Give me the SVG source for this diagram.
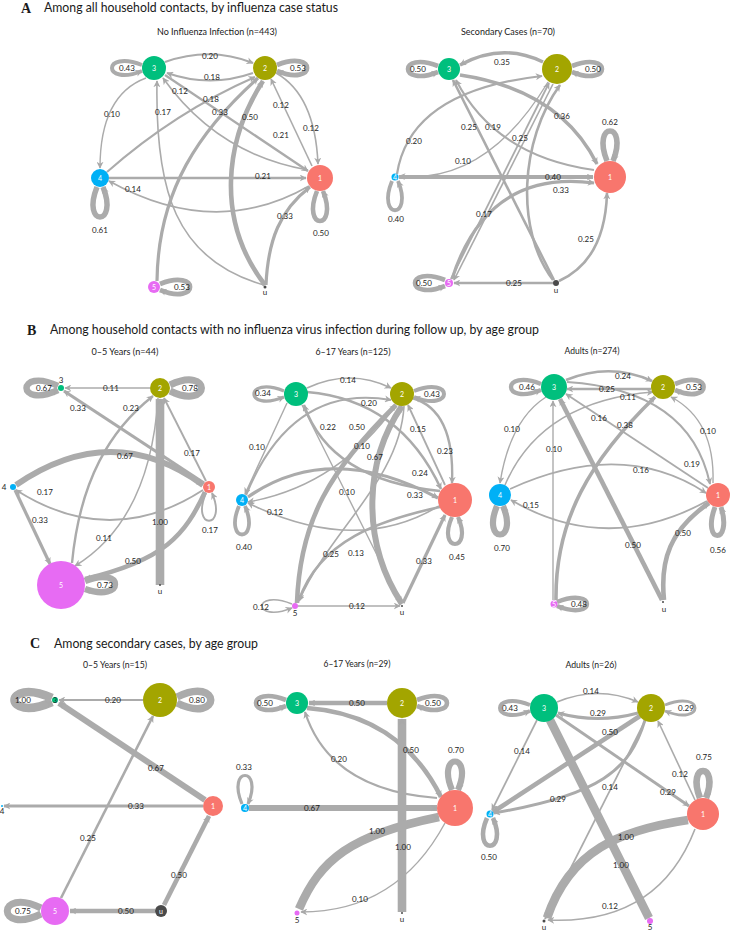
<svg xmlns="http://www.w3.org/2000/svg" width="731" height="931" viewBox="0 0 731 931">
<defs>
<marker id="ar" viewBox="0 0 10 10" refX="9" refY="5" markerWidth="7" markerHeight="7" markerUnits="userSpaceOnUse" orient="auto"><path d="M0,0 L10,5 L0,10 L3,5 z" fill="#a9a9a9"/></marker>
<style>
.e{fill:none;stroke:#ababab;marker-end:url(#ar)}
.l{font-family:Lato,"Open Sans",sans-serif;font-size:8px;fill:#1e1e1e;text-anchor:middle}
.nl{font-family:Lato,"Open Sans",sans-serif;font-size:7px;fill:#ffffff;text-anchor:middle}
.ol{font-family:Lato,"Open Sans",sans-serif;font-size:8px;fill:#1e1e1e;text-anchor:middle}
.t{font-family:Lato,"Open Sans",sans-serif;font-size:12.5px;fill:#1a1a1a}
.k{font-family:"Liberation Serif",serif;font-weight:bold;font-size:14px;fill:#1a1a1a}
.s{font-family:Lato,"Open Sans",sans-serif;font-size:8.5px;fill:#1a1a1a;text-anchor:middle}
.c1{fill:#F8766D}.c2{fill:#A3A500}.c3{fill:#00BF7D}.c4{fill:#00B0F6}.c5{fill:#E76BF3}.cu{fill:#4a4a4a}
</style>
</defs>
<rect width="731" height="931" fill="#ffffff"/>

<g id="titles">
<text class="k" x="21" y="13">A</text>
<text class="t" x="44" y="12" textLength="294" lengthAdjust="spacingAndGlyphs">Among all household contacts, by influenza case status</text>
<text class="s" x="217" y="35" textLength="120" lengthAdjust="spacingAndGlyphs">No Influenza Infection (n=443)</text>
<text class="s" x="508" y="35" textLength="94" lengthAdjust="spacingAndGlyphs">Secondary Cases (n=70)</text>
<text class="k" x="27" y="335">B</text>
<text class="t" x="50" y="334" textLength="489" lengthAdjust="spacingAndGlyphs">Among household contacts with no influenza virus infection during follow up, by age group</text>
<text class="s" x="125" y="355" textLength="67" lengthAdjust="spacingAndGlyphs">0–5 Years (n=44)</text>
<text class="s" x="353" y="355" textLength="75" lengthAdjust="spacingAndGlyphs">6–17 Years (n=125)</text>
<text class="s" x="592" y="354" textLength="55" lengthAdjust="spacingAndGlyphs">Adults (n=274)</text>
<text class="k" x="30" y="648">C</text>
<text class="t" x="54" y="648" textLength="204" lengthAdjust="spacingAndGlyphs">Among secondary cases, by age group</text>
<text class="s" x="115" y="668" textLength="64" lengthAdjust="spacingAndGlyphs">0–5 Years (n=15)</text>
<text class="s" x="357" y="667" textLength="67" lengthAdjust="spacingAndGlyphs">6–17 Years (n=29)</text>
<text class="s" x="591" y="668" textLength="51" lengthAdjust="spacingAndGlyphs">Adults (n=26)</text>
</g>

<g id="connectors">
<!-- A left -->
<path class="e" style="stroke-width:2.2" d="M165,62 Q210,46 253,63"/>
<path class="e" style="stroke-width:2" d="M253,73 Q210,88 167,73"/>
<path class="e" style="stroke-width:4" d="M142,65 C102,49 102,87 142,71"/>
<path class="e" style="stroke-width:4.8" d="M277,65 C317,49 317,87 277,71"/>
<path class="e" style="stroke-width:5.5" d="M97,187 C81,227 119,227 103,187"/>
<path class="e" style="stroke-width:4.6" d="M317,191 C301,231 339,231 323,191"/>
<path class="e" style="stroke-width:4.8" d="M160,284 C200,268 200,306 160,290"/>
<path class="e" style="stroke-width:1.4" d="M146,78 Q100,95 100,168"/>
<path class="e" style="stroke-width:2" d="M107,172 Q175,112 255,77"/>
<path class="e" style="stroke-width:1.6" d="M308,170 C250,160 200,130 163,78"/>
<path class="e" style="stroke-width:2.3" d="M165,75 L308,171"/>
<path class="e" style="stroke-width:1.6" d="M264,285 C175,260 155,190 157,81"/>
<path class="e" style="stroke-width:3.2" d="M157,281 C158,190 200,130 258,78"/>
<path class="e" style="stroke-width:4.6" d="M265,285 C215,220 225,140 263,81"/>
<path class="e" style="stroke-width:1.6" d="M312,166 L271,79"/>
<path class="e" style="stroke-width:1.6" d="M276,73 Q315,95 318,164"/>
<path class="e" style="stroke-width:2.3" d="M109,178 L306,178"/>
<path class="e" style="stroke-width:1.7" d="M309,186 Q215,240 109,181"/>
<path class="e" style="stroke-width:3.2" d="M266,285 C268,240 280,210 310,187"/>
<text class="l" x="210" y="59">0.20</text>
<text class="l" x="212" y="80">0.18</text>
<text class="l" x="127" y="71">0.43</text>
<text class="l" x="298" y="71">0.53</text>
<text class="l" x="100" y="233">0.61</text>
<text class="l" x="321" y="236">0.50</text>
<text class="l" x="182" y="290">0.53</text>
<text class="l" x="112" y="117">0.10</text>
<text class="l" x="211" y="102">0.18</text>
<text class="l" x="180" y="94">0.12</text>
<text class="l" x="281" y="138">0.21</text>
<text class="l" x="163" y="115">0.17</text>
<text class="l" x="220" y="115">0.33</text>
<text class="l" x="250" y="120">0.50</text>
<text class="l" x="281" y="108">0.12</text>
<text class="l" x="311" y="131">0.12</text>
<text class="l" x="263" y="179">0.21</text>
<text class="l" x="133" y="192">0.14</text>
<text class="l" x="285" y="219">0.33</text>

<!-- A right -->
<path class="e" style="stroke-width:3.4" d="M543,62 Q502,42 460,65"/>
<path class="e" style="stroke-width:3.5" d="M460,75 Q560,90 597,164"/>
<path class="e" style="stroke-width:2.1" d="M594,170 Q495,156 456,80"/>
<path class="e" style="stroke-width:2.6" d="M554,280 L453,80"/>
<path class="e" style="stroke-width:2.2" d="M397,174 Q410,91 542,76"/>
<path class="e" style="stroke-width:1.4" d="M548,82 Q486,185 399,176"/>
<path class="e" style="stroke-width:3.8" d="M399,177 L593,177"/>
<path class="e" style="stroke-width:3.2" d="M452,279 Q487,169 594,183"/>
<path class="e" style="stroke-width:1.8" d="M451,279 L549,83"/>
<path class="e" style="stroke-width:1.6" d="M553,84 L454,280"/>
<path class="e" style="stroke-width:2.6" d="M553,280 C515,230 520,140 560,85"/>
<path class="e" style="stroke-width:2.6" d="M553,283 L454,283"/>
<path class="e" style="stroke-width:2.6" d="M559,281 Q605,260 607,193"/>
<path class="e" style="stroke-width:4.6" d="M438,66 C398,50 398,88 438,72"/>
<path class="e" style="stroke-width:4.6" d="M572,66 C612,50 612,88 572,72"/>
<path class="e" style="stroke-width:5.6" d="M607,161 C591,121 629,121 613,161"/>
<path class="e" style="stroke-width:3.8" d="M392,181 C376,220 414,220 398,181"/>
<path class="e" style="stroke-width:4.6" d="M445,280 C405,264 405,302 445,286"/>
<text class="l" x="502" y="65">0.35</text>
<text class="l" x="562" y="119">0.36</text>
<text class="l" x="493" y="130">0.19</text>
<text class="l" x="469" y="130">0.25</text>
<text class="l" x="414" y="144">0.20</text>
<text class="l" x="463" y="164">0.10</text>
<text class="l" x="553" y="180">0.40</text>
<text class="l" x="561" y="193">0.33</text>
<text class="l" x="484" y="217">0.17</text>
<text class="l" x="520" y="141">0.25</text>
<text class="l" x="514" y="286">0.25</text>
<text class="l" x="586" y="242">0.25</text>
<text class="l" x="418" y="72">0.50</text>
<text class="l" x="593" y="72">0.50</text>
<text class="l" x="610" y="125">0.62</text>
<text class="l" x="396" y="222">0.40</text>
<text class="l" x="424" y="286">0.50</text>

<!-- B 0-5 -->
<path class="e" style="stroke-width:1.5" d="M150,388 L65,388"/>
<path class="e" style="stroke-width:3.2" d="M204,483 L64,391"/>
<path class="e" style="stroke-width:2.4" d="M72,563 C80,480 110,430 153,396"/>
<path class="e" style="stroke-width:1.5" d="M158,398 Q150,520 75,566"/>
<path class="e" style="stroke-width:1.9" d="M206,481 L164,398"/>
<path class="e" style="stroke-width:6" d="M16,485 Q112,419 203,485"/>
<path class="e" style="stroke-width:1.9" d="M203,490 Q110,550 16,490"/>
<path class="e" style="stroke-width:3.2" d="M15,490 L50,564"/>
<path class="e" style="stroke-width:8.6" d="M160,585 L160,399"/>
<path class="e" style="stroke-width:4.6" d="M205,492 C185,535 165,560 85,579"/>
<path class="e" style="stroke-width:6.5" d="M58,386 C16,366 16,410 58,390"/>
<path class="e" style="stroke-width:7" d="M170,385 C212,365 212,411 170,391"/>
<path class="e" style="stroke-width:1.9" d="M206,493 C190,530 228,530 212,493"/>
<path class="e" style="stroke-width:6.4" d="M85,581 C125,565 125,603 85,589"/>
<text class="l" x="111" y="391">0.11</text>
<text class="l" x="78" y="411">0.33</text>
<text class="l" x="131" y="411">0.23</text>
<text class="l" x="104" y="541">0.11</text>
<text class="l" x="192" y="456">0.17</text>
<text class="l" x="125" y="459">0.67</text>
<text class="l" x="45" y="495">0.17</text>
<text class="l" x="40" y="523">0.33</text>
<text class="l" x="160" y="525">1.00</text>
<text class="l" x="133" y="564">0.50</text>
<text class="l" x="44" y="391">0.67</text>
<text class="l" x="190" y="391">0.78</text>
<text class="l" x="210" y="533">0.17</text>
<text class="l" x="105" y="588">0.73</text>

<!-- B 6-17 -->
<path class="e" style="stroke-width:1.7" d="M307,388 Q350,368 391,388"/>
<path class="e" style="stroke-width:2.2" d="M246,495 Q292,383 391,400"/>
<path class="e" style="stroke-width:1.4" d="M287,403 L245,494"/>
<path class="e" style="stroke-width:2.4" d="M440,491 Q330,480 304,405"/>
<path class="e" style="stroke-width:4.6" d="M297,603 C300,520 330,470 396,405"/>
<path class="e" style="stroke-width:1.4" d="M396,405 Q338,486 248,502"/>
<path class="e" style="stroke-width:6" d="M402,604 C360,540 365,460 402,406"/>
<path class="e" style="stroke-width:1.8" d="M445,485 L408,405"/>
<path class="e" style="stroke-width:2.4" d="M412,398 Q455,410 452,483"/>
<path class="e" style="stroke-width:2.5" d="M307,392 Q400,400 441,489"/>
<path class="e" style="stroke-width:3.2" d="M248,497 Q330,440 438,498"/>
<path class="e" style="stroke-width:1.6" d="M439,506 Q356,556 248,503"/>
<path class="e" style="stroke-width:2.6" d="M440,507 C380,520 320,540 299,600"/>
<path class="e" style="stroke-width:1.6" d="M404,406 C400,480 330,530 299,601"/>
<path class="e" style="stroke-width:1.4" d="M302,405 L401,603"/>
<path class="e" style="stroke-width:3.2" d="M403,603 L445,515"/>
<path class="e" style="stroke-width:1.6" d="M298,606 L400,606"/>
<path class="e" style="stroke-width:3.3" d="M284,391 C244,375 244,413 284,397"/>
<path class="e" style="stroke-width:4" d="M414,391 C454,375 454,413 414,397"/>
<path class="e" style="stroke-width:3.8" d="M239,506 C223,544 261,544 245,506"/>
<path class="e" style="stroke-width:4.2" d="M452,517 C436,553 474,553 458,517"/>
<path class="e" style="stroke-width:1.6" d="M292,604 C252,588 252,624 292,608"/>
<text class="l" x="348" y="383">0.14</text>
<text class="l" x="369" y="406">0.20</text>
<text class="l" x="257" y="450">0.10</text>
<text class="l" x="328" y="430">0.22</text>
<text class="l" x="357" y="430">0.50</text>
<text class="l" x="362" y="449">0.10</text>
<text class="l" x="375" y="460">0.67</text>
<text class="l" x="418" y="432">0.15</text>
<text class="l" x="445" y="454">0.23</text>
<text class="l" x="420" y="476">0.24</text>
<text class="l" x="415" y="498">0.33</text>
<text class="l" x="275" y="515">0.12</text>
<text class="l" x="331" y="557">0.25</text>
<text class="l" x="356" y="556">0.13</text>
<text class="l" x="347" y="495">0.10</text>
<text class="l" x="424" y="564">0.33</text>
<text class="l" x="357" y="609">0.12</text>
<text class="l" x="263" y="396">0.34</text>
<text class="l" x="432" y="397">0.43</text>
<text class="l" x="244" y="550">0.40</text>
<text class="l" x="457" y="560">0.45</text>
<text class="l" x="261" y="610">0.12</text>

<!-- B adults -->
<path class="e" style="stroke-width:2.5" d="M566,380 Q610,362 652,381"/>
<path class="e" style="stroke-width:2.6" d="M651,389 L567,389"/>
<path class="e" style="stroke-width:1.5" d="M505,485 Q541,401 653,392"/>
<path class="e" style="stroke-width:1.4" d="M546,397 Q510,420 500,483"/>
<path class="e" style="stroke-width:1.8" d="M708,488 L566,394"/>
<path class="e" style="stroke-width:3.6" d="M556,600 C555,520 590,460 655,397"/>
<path class="e" style="stroke-width:1.4" d="M553,600 L553,401"/>
<path class="e" style="stroke-width:1.4" d="M713,483 Q715,420 671,397"/>
<path class="e" style="stroke-width:2.1" d="M567,382 Q690,390 710,484"/>
<path class="e" style="stroke-width:1.8" d="M510,489 Q622,438 706,493"/>
<path class="e" style="stroke-width:1.8" d="M707,501 Q607,556 511,500"/>
<path class="e" style="stroke-width:4.6" d="M662,600 L560,399"/>
<path class="e" style="stroke-width:4.6" d="M664,600 C660,560 670,530 709,503"/>
<path class="e" style="stroke-width:4.3" d="M541,384 C501,368 501,406 541,390"/>
<path class="e" style="stroke-width:4.8" d="M675,384 C713,368 713,406 675,390"/>
<path class="e" style="stroke-width:6.2" d="M497,506 C481,544 519,544 503,506"/>
<path class="e" style="stroke-width:5" d="M715,507 C701,545 733,545 721,507"/>
<path class="e" style="stroke-width:4.4" d="M557,602 C597,586 597,622 557,606"/>
<text class="l" x="623" y="379">0.24</text>
<text class="l" x="607" y="392">0.25</text>
<text class="l" x="628" y="400">0.11</text>
<text class="l" x="512" y="432">0.10</text>
<text class="l" x="599" y="421">0.16</text>
<text class="l" x="625" y="428">0.38</text>
<text class="l" x="554" y="452">0.10</text>
<text class="l" x="708" y="434">0.10</text>
<text class="l" x="692" y="467">0.19</text>
<text class="l" x="641" y="473">0.16</text>
<text class="l" x="531" y="508">0.15</text>
<text class="l" x="633" y="548">0.50</text>
<text class="l" x="683" y="536">0.50</text>
<text class="l" x="527" y="390">0.46</text>
<text class="l" x="694" y="390">0.53</text>
<text class="l" x="502" y="551">0.70</text>
<text class="l" x="718" y="553">0.56</text>
<text class="l" x="579" y="607">0.48</text>

<!-- C 0-5 -->
<path class="e" style="stroke-width:2.2" d="M143,700 L59,700"/>
<path class="e" style="stroke-width:6" d="M205,800 L59,703"/>
<path class="e" style="stroke-width:3.2" d="M203,806 L4,806"/>
<path class="e" style="stroke-width:2.6" d="M61,898 L153,716"/>
<path class="e" style="stroke-width:4.6" d="M164,905 L209,816"/>
<path class="e" style="stroke-width:4.6" d="M155,911 L70,911"/>
<path class="e" style="stroke-width:8.6" d="M52,698 C2,676 2,724 52,702"/>
<path class="e" style="stroke-width:7.5" d="M177,697 C222,675 222,725 177,703"/>
<path class="e" style="stroke-width:7" d="M41,908 C-4,886 -4,936 41,914"/>
<text class="l" x="113" y="703">0.20</text>
<text class="l" x="156" y="771">0.67</text>
<text class="l" x="136" y="809">0.33</text>
<text class="l" x="88" y="841">0.25</text>
<text class="l" x="179" y="878">0.50</text>
<text class="l" x="126" y="914">0.50</text>
<text class="l" x="23" y="703">1.00</text>
<text class="l" x="197" y="703">0.80</text>
<text class="l" x="23" y="914">0.75</text>

<!-- C 6-17 -->
<path class="e" style="stroke-width:4.6" d="M387,703 L309,703"/>
<path class="e" style="stroke-width:4.6" d="M307,708 Q400,715 441,797"/>
<path class="e" style="stroke-width:2.2" d="M437,798 Q330,790 305,712"/>
<path class="e" style="stroke-width:8.6" d="M402,912 L402,719"/>
<path class="e" style="stroke-width:6" d="M249,808 L437,808"/>
<path class="e" style="stroke-width:8.6" d="M299,909 C320,860 350,835 439,817"/>
<path class="e" style="stroke-width:1.4" d="M445,823 Q397,912 301,912"/>
<path class="e" style="stroke-width:4.6" d="M286,700 C246,684 246,722 286,706"/>
<path class="e" style="stroke-width:4.6" d="M417,700 C457,684 457,722 417,706"/>
<path class="e" style="stroke-width:3.2" d="M242,804 C226,766 264,766 248,804"/>
<path class="e" style="stroke-width:6.2" d="M452,790 C436,752 474,752 458,790"/>
<text class="l" x="357" y="706">0.50</text>
<text class="l" x="411" y="753">0.50</text>
<text class="l" x="339" y="762">0.20</text>
<text class="l" x="403" y="850">1.00</text>
<text class="l" x="312" y="811">0.67</text>
<text class="l" x="377" y="834">1.00</text>
<text class="l" x="360" y="902">0.10</text>
<text class="l" x="265" y="706">0.50</text>
<text class="l" x="433" y="706">0.50</text>
<text class="l" x="244" y="770">0.33</text>
<text class="l" x="456" y="753">0.70</text>

<!-- C adults -->
<path class="e" style="stroke-width:1.7" d="M557,702 Q598,685 638,702"/>
<path class="e" style="stroke-width:2.9" d="M638,713 Q598,724 558,713"/>
<path class="e" style="stroke-width:4.6" d="M640,716 L493,812"/>
<path class="e" style="stroke-width:2.9" d="M645,720 C630,770 600,795 494,813"/>
<path class="e" style="stroke-width:1.7" d="M537,720 L492,810"/>
<path class="e" style="stroke-width:8.6" d="M550,720 L649,918"/>
<path class="e" style="stroke-width:2.9" d="M556,715 L689,806"/>
<path class="e" style="stroke-width:1.6" d="M695,800 L658,721"/>
<path class="e" style="stroke-width:1.7" d="M645,721 L545,919"/>
<path class="e" style="stroke-width:8.6" d="M688,820 C620,830 570,850 547,918"/>
<path class="e" style="stroke-width:1.6" d="M695,829 Q658,925 548,920"/>
<path class="e" style="stroke-width:4" d="M530,705 C490,689 490,727 530,711"/>
<path class="e" style="stroke-width:2.9" d="M665,705 C705,689 705,727 665,711"/>
<path class="e" style="stroke-width:6.6" d="M700,798 C686,762 720,762 706,798"/>
<path class="e" style="stroke-width:4.6" d="M487,818 C471,855 509,855 493,818"/>
<text class="l" x="591" y="694">0.14</text>
<text class="l" x="598" y="716">0.29</text>
<text class="l" x="610" y="735">0.50</text>
<text class="l" x="558" y="802">0.29</text>
<text class="l" x="522" y="754">0.14</text>
<text class="l" x="621" y="868">1.00</text>
<text class="l" x="668" y="795">0.29</text>
<text class="l" x="680" y="777">0.12</text>
<text class="l" x="610" y="790">0.14</text>
<text class="l" x="626" y="840">1.00</text>
<text class="l" x="610" y="909">0.12</text>
<text class="l" x="510" y="711">0.43</text>
<text class="l" x="686" y="711">0.29</text>
<text class="l" x="704" y="760">0.75</text>
<text class="l" x="489" y="860">0.50</text>
</g>

<!-- Nodes A left -->
<g id="A1-n3"><circle class="c3" cx="154" cy="68" r="12"/><text class="nl" x="154" y="70.5">3</text></g>
<g id="A1-n2"><circle class="c2" cx="265" cy="68" r="12"/><text class="nl" x="265" y="70.5">2</text></g>
<g id="A1-n4"><circle class="c4" cx="100" cy="178" r="9"/><text class="nl" x="100" y="180.5">4</text></g>
<g id="A1-n1"><circle class="c1" cx="320" cy="178" r="13"/><text class="nl" x="320" y="180.5">1</text></g>
<g id="A1-n5"><circle class="c5" cx="154" cy="287" r="6"/><text class="nl" x="154" y="289.5">5</text></g>
<g id="A1-nu"><circle class="cu" cx="265" cy="287" r="1.5"/><text class="ol" x="265" y="295">u</text></g>
<!-- Nodes A right -->
<g id="A2-n3"><circle class="c3" cx="449" cy="69" r="11"/><text class="nl" x="449" y="71.5">3</text></g>
<g id="A2-n2"><circle class="c2" cx="557" cy="69" r="15"/><text class="nl" x="557" y="71.5">2</text></g>
<g id="A2-n4"><circle class="c4" cx="395" cy="177" r="3.5"/><text class="nl" x="395" y="179.5">4</text></g>
<g id="A2-n1"><circle class="c1" cx="610" cy="177" r="16"/><text class="nl" x="610" y="179.5">1</text></g>
<g id="A2-n5"><circle class="c5" cx="449" cy="283" r="4"/><text class="nl" x="449" y="285.5">5</text></g>
<g id="A2-nu"><circle class="cu" cx="556" cy="283" r="3"/><text class="ol" x="556" y="293">u</text></g>
<!-- Nodes B 0-5 -->
<g id="B1-n3"><circle class="c3" cx="61" cy="388" r="3"/><text class="ol" x="61" y="383">3</text></g>
<g id="B1-n2"><circle class="c2" cx="160" cy="388" r="10"/><text class="nl" x="160" y="390.5">2</text></g>
<g id="B1-n4"><circle class="c4" cx="13" cy="487" r="3"/><text class="ol" x="4" y="490">4</text></g>
<g id="B1-n1"><circle class="c1" cx="209" cy="487" r="6"/><text class="nl" x="209" y="489.5">1</text></g>
<g id="B1-n5"><circle class="c5" cx="61" cy="585" r="24"/><text class="nl" x="61" y="587.5">5</text></g>
<g id="B1-nu"><circle class="cu" cx="160" cy="585" r="1"/><text class="ol" x="160" y="594">u</text></g>
<!-- Nodes B 6-17 -->
<g id="B2-n3"><circle class="c3" cx="296" cy="394" r="12"/><text class="nl" x="296" y="396.5">3</text></g>
<g id="B2-n2"><circle class="c2" cx="402" cy="394" r="12"/><text class="nl" x="402" y="396.5">2</text></g>
<g id="B2-n4"><circle class="c4" cx="242" cy="500" r="6"/><text class="nl" x="242" y="502.5">4</text></g>
<g id="B2-n1"><circle class="c1" cx="455" cy="500" r="17"/><text class="nl" x="455" y="502.5">1</text></g>
<g id="B2-n5"><circle class="c5" cx="295" cy="606" r="3"/><text class="ol" x="295" y="616">5</text></g>
<g id="B2-nu"><circle class="cu" cx="402" cy="606" r="1"/><text class="ol" x="402" y="615">u</text></g>
<!-- Nodes B adults -->
<g id="B3-n3"><circle class="c3" cx="554" cy="387" r="13"/><text class="nl" x="554" y="389.5">3</text></g>
<g id="B3-n2"><circle class="c2" cx="663" cy="387" r="12"/><text class="nl" x="663" y="389.5">2</text></g>
<g id="B3-n4"><circle class="c4" cx="500" cy="495" r="11"/><text class="nl" x="500" y="497.5">4</text></g>
<g id="B3-n1"><circle class="c1" cx="718" cy="495" r="12"/><text class="nl" x="718" y="497.5">1</text></g>
<g id="B3-n5"><circle class="c5" cx="554" cy="604" r="3.5"/><text class="nl" x="554" y="606.5">5</text></g>
<g id="B3-nu"><circle class="cu" cx="663" cy="602" r="1"/><text class="ol" x="664" y="612">u</text></g>
<!-- Nodes C 0-5 -->
<g id="C1-n3"><circle class="c3" cx="55" cy="700" r="3"/><text class="nl" x="55" y="702.5" style="fill:#1e1e1e">3</text></g>
<g id="C1-n2"><circle class="c2" cx="160" cy="700" r="17"/><text class="nl" x="160" y="702.5">2</text></g>
<g id="C1-n4"><circle class="c4" cx="2" cy="806" r="1"/><text class="ol" x="2" y="814">4</text></g>
<g id="C1-n1"><circle class="c1" cx="213" cy="806" r="10"/><text class="nl" x="213" y="808.5">1</text></g>
<g id="C1-n5"><circle class="c5" cx="55" cy="911" r="14"/><text class="nl" x="55" y="913.5">5</text></g>
<g id="C1-nu"><circle class="cu" cx="161" cy="911" r="6"/><text class="nl" x="161" y="913.5">u</text></g>
<!-- Nodes C 6-17 -->
<g id="C2-n3"><circle class="c3" cx="297" cy="703" r="11"/><text class="nl" x="297" y="705.5">3</text></g>
<g id="C2-n2"><circle class="c2" cx="402" cy="703" r="15"/><text class="nl" x="402" y="705.5">2</text></g>
<g id="C2-n4"><circle class="c4" cx="245" cy="808" r="4"/><text class="nl" x="245" y="810.5">4</text></g>
<g id="C2-n1"><circle class="c1" cx="455" cy="808" r="18"/><text class="nl" x="455" y="810.5">1</text></g>
<g id="C2-n5"><circle class="c5" cx="297" cy="913" r="2.5"/><text class="ol" x="297" y="923">5</text></g>
<g id="C2-nu"><circle class="cu" cx="402" cy="913" r="1"/><text class="ol" x="402" y="922">u</text></g>
<!-- Nodes C adults -->
<g id="C3-n3"><circle class="c3" cx="544" cy="708" r="14"/><text class="nl" x="544" y="710.5">3</text></g>
<g id="C3-n2"><circle class="c2" cx="651" cy="708" r="14"/><text class="nl" x="651" y="710.5">2</text></g>
<g id="C3-n4"><circle class="c4" cx="490" cy="814" r="3.5"/><text class="nl" x="490" y="816.5">4</text></g>
<g id="C3-n1"><circle class="c1" cx="703" cy="814" r="16"/><text class="nl" x="703" y="816.5">1</text></g>
<g id="C3-n5"><circle class="c5" cx="650" cy="921" r="3"/><text class="ol" x="650" y="930">5</text></g>
<g id="C3-nu"><circle class="cu" cx="544" cy="921" r="1.5"/><text class="ol" x="544" y="930">u</text></g>
</svg>
